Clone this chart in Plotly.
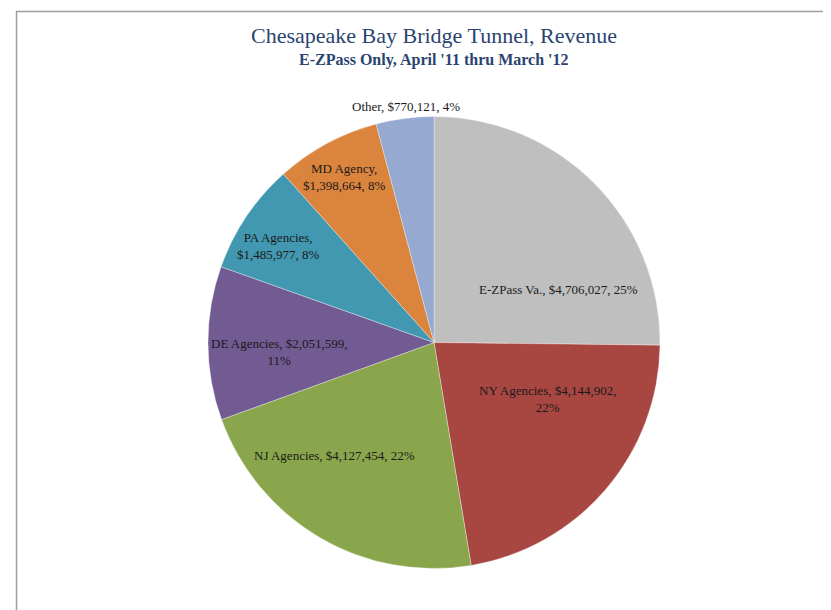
import math
import plotly.graph_objects as go

labels = ["E-ZPass Va.", "NY Agencies", "NJ Agencies", "DE Agencies", "PA Agencies", "MD Agency", "Other"]
values = [4706027, 4144902, 4127454, 2051599, 1485977, 1398664, 770121]
percents = [25, 22, 22, 11, 8, 8, 4]
colors = ["#BFBFBF", "#A84642", "#8AA64C", "#725B92", "#4298B0", "#DA843E", "#95A9D1"]
# where the label wraps: 0 = one line, 1 = break before value, 2 = break before percent
wraps = [0, 2, 0, 2, 1, 1, 0]
# label centre offsets from the pie centre, in units of the pie radius (right, down)
label_dx = [0.549, 0.50, -0.442, -0.686, -0.686, -0.398, -0.124]
label_dy = [-0.235, 0.248, 0.500, 0.044, -0.429, -0.732, -1.044]

texts = []
for lab, val, pct, w in zip(labels, values, percents, wraps):
    v = f"${val:,}"
    if w == 0:
        texts.append(f"{lab}, {v}, {pct}%")
    elif w == 1:
        texts.append(f"{lab},<br>{v}, {pct}%")
    else:
        texts.append(f"{lab}, {v},<br>{pct}%")

W, H = 831, 610
OFF = 8  # page body margin
cx, cy, r = 434 - OFF, 342.5 - OFF, 226


def px(x):
    return x / W


def py(y):
    return 1 - y / H


fig = go.Figure(go.Pie(
    labels=labels, values=values, text=texts,
    textinfo="none",
    sort=False, direction="clockwise", rotation=0,
    marker=dict(colors=colors, line=dict(color="rgba(255,255,255,0.55)", width=0.6)),
    showlegend=False, hoverinfo="label+value+percent",
    domain=dict(x=[px(cx - r), px(cx + r)], y=[py(cy + r), py(cy - r)]),
))

annotations = [
    dict(text="Chesapeake Bay Bridge Tunnel, Revenue", xref="paper", yref="paper",
         x=px(cx), y=py(36 - OFF), xanchor="center", yanchor="middle", showarrow=False,
         font=dict(family="Liberation Serif, serif", size=22, color="#2A4470")),
    dict(text="<b>E-ZPass Only, April '11 thru March '12</b>", xref="paper", yref="paper",
         x=px(cx), y=py(60 - OFF), xanchor="center", yanchor="middle", showarrow=False,
         font=dict(family="Liberation Serif, serif", size=16, color="#2A4470")),
]
for t, dx, dy in zip(texts, label_dx, label_dy):
    annotations.append(dict(
        text=t, xref="paper", yref="paper", x=px(cx + dx * r), y=py(cy + dy * r),
        xanchor="center", yanchor="middle", showarrow=False, align="center",
        font=dict(family="Liberation Serif, serif", size=13, color="#1a1a1a")))

fig.update_layout(
    width=W, height=H,
    margin=dict(l=0, r=0, t=0, b=0),
    paper_bgcolor="white", plot_bgcolor="white",
    font=dict(family="Liberation Serif, serif"),
    shapes=[dict(type="rect", xref="paper", yref="paper",
                 x0=px(16.5 - OFF), x1=1.05, y0=-0.05, y1=py(11.5 - OFF),
                 line=dict(color="#9E9E9E", width=1.5), fillcolor="rgba(0,0,0,0)", layer="below")],
    annotations=annotations,
)

fig.write_html("out.html")
